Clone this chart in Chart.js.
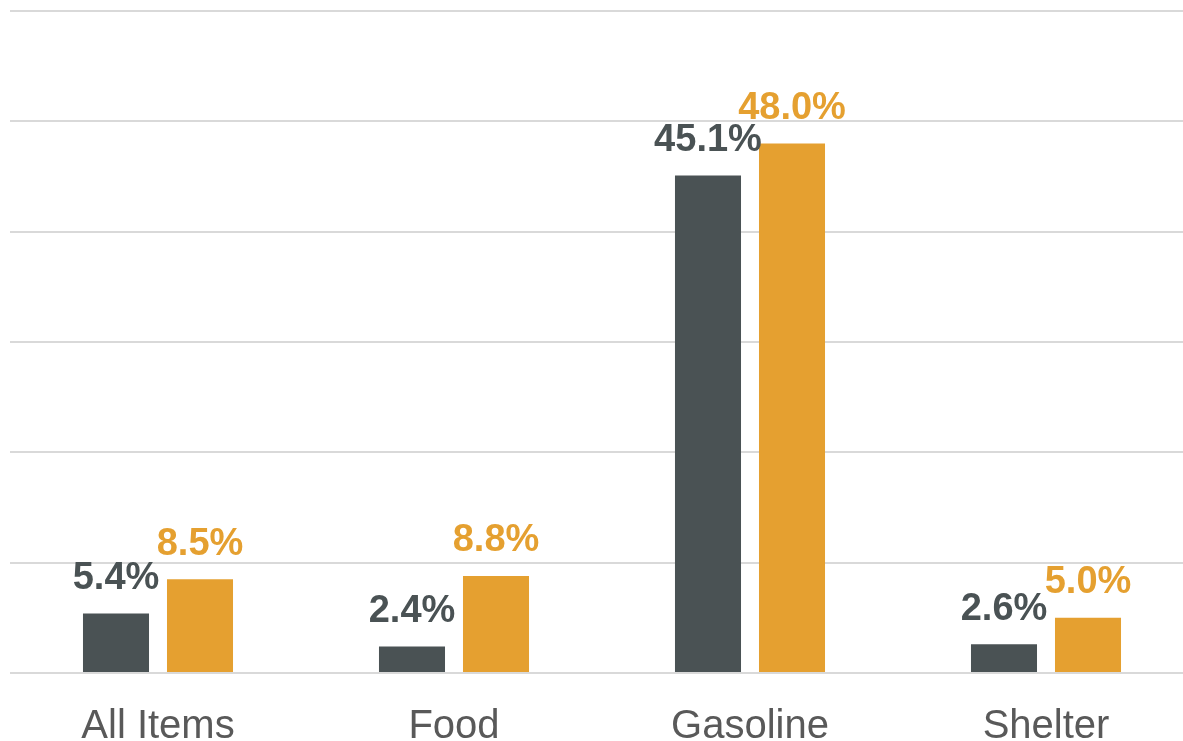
<!DOCTYPE html>
<html>
<head>
<meta charset="utf-8">
<script src="https://cdn.jsdelivr.net/npm/chart.js@4"></script>
<style>
  body { margin: 0; overflow: hidden; background: #fff; }
  #wrap { width: 1194px; height: 741px; }
</style>
</head>
<body>
<div id="wrap"><canvas id="myChart"></canvas></div>
<script>
const categories = ['All Items', 'Food', 'Gasoline', 'Shelter']
const seriesA = [5.4, 2.4, 45.1, 2.6]
const seriesB = [8.5, 8.8, 48.0, 5.0]
const darkColor = '#4a5254'
const orangeColor = '#e5a030'

// draws the value above each bar
const barValues = {
    id: 'barValues',
    afterDatasetsDraw(chart) {
        const ctx = chart.ctx
        ctx.save()
        ctx.font = 'bold 38px "Liberation Sans", Arial, sans-serif'
        ctx.textAlign = 'center'
        ctx.textBaseline = 'bottom'
        chart.data.datasets.forEach((ds, i) => {
            const meta = chart.getDatasetMeta(i)
            ctx.fillStyle = ds.backgroundColor
            meta.data.forEach((bar, j) => {
                ctx.fillText(ds.data[j].toFixed(1) + '%', bar.x, bar.y - 16)
            })
        })
        ctx.restore()
    }
}

const ctx = document.getElementById('myChart')
const myChart = new Chart(ctx, {
    type: 'bar',
    data: {
        labels: categories,
        datasets: [{
            label: 'Series A',
            data: seriesA,
            backgroundColor: darkColor
        }, {
            label: 'Series B',
            data: seriesB,
            backgroundColor: orangeColor
        }]
    },
    options: {
        responsive: true,
        maintainAspectRatio: false,
        animation: false,
        layout: { padding: { left: 10, top: 11, right: 0, bottom: -32 } },
        categoryPercentage: 0.5676,
        barPercentage: 0.786,
        plugins: {
            legend: { display: false },
            tooltip: { enabled: false }
        },
        scales: {
            x: {
                grid: { display: false },
                border: { display: false },
                ticks: {
                    color: '#595959',
                    padding: 26,
                    font: { family: '"Liberation Sans", Arial, sans-serif', size: 40, lineHeight: 1 }
                }
            },
            y: {
                min: 0,
                max: 60,
                ticks: { display: false, stepSize: 10 },
                border: { display: false },
                grid: { color: '#d9d9d9', lineWidth: 2, drawTicks: false }
            }
        }
    },
    plugins: [barValues]
})
</script>
</body>
</html>
